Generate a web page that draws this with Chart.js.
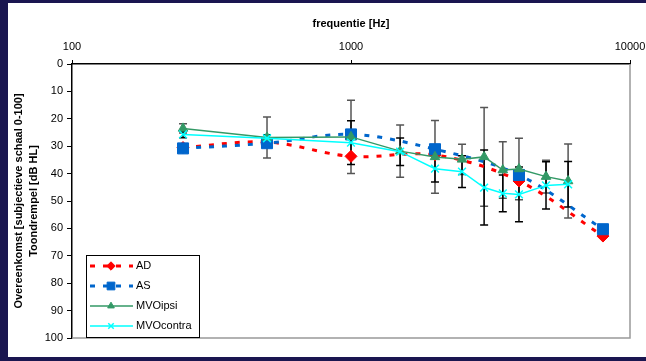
<!DOCTYPE html>
<html>
<head>
<meta charset="utf-8">
<script src="https://cdn.jsdelivr.net/npm/chart.js@4.4.1/dist/chart.umd.min.js"></script>
<style>
  html, body { margin: 0; padding: 0; background: #1a1650; }
  body { width: 646px; height: 361px; position: relative; overflow: hidden; }
  #wrap { position: absolute; left: 8px; top: 3px; width: 638px; height: 354px; background: #fff; }
</style>
</head>
<body>
<div id="wrap"><canvas id="chart" width="638" height="354"></canvas></div>
<script>
// audiogram (AD / AS) frequencies and thresholds
const adasFreq = [250, 500, 1000, 2000, 4000, 8000];
const adValues = [30.5, 28.5, 33.7, 33.2, 42.7, 62.8];
const asValues = [30.8, 28.9, 25.7, 31.1, 40.5, 60.3];

// MVO matching scores with spread
const mvoFreq = [250, 500, 1000, 1500, 2000, 2500, 3000, 3500, 4000, 5000, 6000];
const ipsiValues = [23.5, 26.8, 26.6, 31.8, 33.9, 34.8, 33.9, 38.7, 38.3, 41.1, 42.7];
const ipsiErrors = [1.7, 7.5, 13.4, 9.5, 13.3, 5.5, 18, 10.3, 11.2, 6, 13.5];
const contraValues = [25.7, 27.1, 28.7, 32, 38.2, 39.3, 45.1, 47.2, 47.6, 44.3, 43.9];
const contraErrors = [1.2, 1.3, 8, 5, 4.9, 5.8, 13.7, 6.7, 10, 8.6, 8.3];

const xTicks = [100, 1000, 10000];

const toPoints = (xs, ys) => xs.map((f, i) => ({ x: f, y: ys[i] }));

// error bars under the lines
const errorBars = {
    id: 'errorBars',
    beforeDatasetsDraw(chart) {
        const ctx = chart.ctx;
        const xs = chart.scales.x, ys = chart.scales.y;
        const a = chart.chartArea;
        // grey plot frame on right and bottom
        ctx.save();
        ctx.strokeStyle = '#999';
        ctx.lineWidth = 1.5;
        ctx.beginPath();
        ctx.moveTo(a.right, a.top);
        ctx.lineTo(a.right, a.bottom);
        ctx.lineTo(a.left, a.bottom);
        ctx.stroke();
        ctx.restore();

        chart.data.datasets.forEach(ds => {
            if (!ds.errors) return;
            ctx.save();
            ctx.strokeStyle = ds.errorColor;
            ctx.lineWidth = 1.5;
            ds.data.forEach((p, i) => {
                const px = xs.getPixelForValue(p.x);
                const y1 = ys.getPixelForValue(p.y - ds.errors[i]);
                const y2 = ys.getPixelForValue(p.y + ds.errors[i]);
                ctx.beginPath();
                ctx.moveTo(px, y1); ctx.lineTo(px, y2);
                ctx.moveTo(px - 4, y1); ctx.lineTo(px + 4, y1);
                ctx.moveTo(px - 4, y2); ctx.lineTo(px + 4, y2);
                ctx.stroke();
            });
            ctx.restore();
        });
    }
};

// boxed legend in the lower left of the plot
const boxLegend = {
    id: 'boxLegend',
    afterDraw(chart) {
        const ctx = chart.ctx;
        const bx = 78, by = 252, bw = 113, bh = 82;
        ctx.save();
        ctx.fillStyle = '#fff';
        ctx.fillRect(bx, by, bw, bh);
        ctx.strokeStyle = '#000';
        ctx.lineWidth = 1;
        ctx.strokeRect(bx + 0.5, by + 0.5, bw, bh);
        ctx.font = '11px "Liberation Sans", Arial, sans-serif';
        ctx.textBaseline = 'middle';
        chart.data.datasets.forEach((ds, i) => {
            const y = by + 11 + i * 20;
            ctx.strokeStyle = ds.borderColor;
            ctx.lineWidth = ds.borderWidth;
            ctx.setLineDash(ds.borderDash || []);
            ctx.beginPath();
            ctx.moveTo(bx + 4, y);
            ctx.lineTo(bx + 47, y);
            ctx.stroke();
            ctx.setLineDash([]);
            ctx.fillStyle = ds.backgroundColor;
            ctx.strokeStyle = ds.borderColor;
            ctx.lineWidth = ds.pointBorderWidth;
            Chart.helpers.drawPoint(ctx, {
                pointStyle: ds.pointStyle,
                radius: ds.pointRadius * 0.7,
                rotation: 0,
                borderWidth: ds.pointBorderWidth
            }, bx + 25, y);
            ctx.fillStyle = '#000';
            ctx.fillText(ds.label, bx + 50, y);
        });
        ctx.restore();
    }
};

new Chart(document.getElementById('chart'), {
    type: 'line',
    data: {
        datasets: [
            {
                label: 'AD',
                data: toPoints(adasFreq, adValues),
                borderColor: '#ff0000',
                backgroundColor: '#ff0000',
                borderWidth: 3,
                borderDash: [5, 8],
                pointStyle: 'rectRot',
                pointRadius: 6,
                pointBorderWidth: 1,
                tension: 0.35,
                order: 4
            },
            {
                label: 'AS',
                data: toPoints(adasFreq, asValues),
                borderColor: '#0066cc',
                backgroundColor: '#0066cc',
                borderWidth: 3,
                borderDash: [5, 8],
                pointStyle: 'rect',
                pointRadius: 7.8,
                pointBorderWidth: 1,
                tension: 0.35,
                order: 3
            },
            {
                label: 'MVOipsi',
                data: toPoints(mvoFreq, ipsiValues),
                errors: ipsiErrors,
                errorColor: '#555',
                borderColor: '#339966',
                backgroundColor: '#339966',
                borderWidth: 1.5,
                pointStyle: 'triangle',
                pointRadius: 5.5,
                pointBorderWidth: 1,
                tension: 0,
                order: 2
            },
            {
                label: 'MVOcontra',
                data: toPoints(mvoFreq, contraValues),
                errors: contraErrors,
                errorColor: '#000',
                borderColor: '#00ffff',
                backgroundColor: '#00ffff',
                borderWidth: 1.5,
                pointStyle: 'crossRot',
                pointRadius: 5.5,
                pointBorderWidth: 1.5,
                tension: 0,
                order: 1
            }
        ]
    },
    options: {
        responsive: false,
        animation: false,
        layout: { padding: { top: 0, left: 0, right: 16, bottom: 19 } },
        font: { family: '"Liberation Sans", Arial, sans-serif' },
        plugins: {
            legend: { display: false },
            tooltip: { enabled: false }
        },
        scales: {
            x: {
                type: 'logarithmic',
                position: 'top',
                min: 100,
                max: 10000,
                afterBuildTicks: s => { s.ticks = xTicks.map(v => ({ value: v })); },
                afterFit: s => {
                    s.height = 61;
                    s.paddingLeft = 0;
                    s.paddingRight = 0;
                },
                ticks: {
                    callback: v => String(v),
                    font: { size: 11 },
                    color: '#000',
                    padding: 6,
                    maxRotation: 0,
                    autoSkip: false
                },
                grid: { drawOnChartArea: false, drawTicks: true, tickLength: 4, color: '#000' },
                border: { display: true, color: '#000', width: 1.5 },
                title: {
                    display: true,
                    text: 'frequentie [Hz]',
                    font: { size: 11, weight: 'bold' },
                    color: '#000',
                    padding: { top: 14, bottom: 0 }
                }
            },
            y: {
                type: 'linear',
                reverse: true,
                min: 0,
                max: 100,
                afterFit: s => { s.width = 64; },
                ticks: { stepSize: 10, font: { size: 11 }, color: '#000', padding: 4 },
                grid: { drawOnChartArea: false, drawTicks: true, tickLength: 5, color: '#000' },
                border: { display: true, color: '#000', width: 1.5 },
                title: {
                    display: true,
                    text: ['Overeenkomst [subjectieve schaal 0-100]', 'Toondrempel [dB HL]'],
                    font: { size: 11, weight: 'bold', lineHeight: 1.36 },
                    color: '#000',
                    padding: { top: 3.5, bottom: 0 }
                }
            }
        }
    },
    plugins: [errorBars, boxLegend]
});
</script>
</body>
</html>
